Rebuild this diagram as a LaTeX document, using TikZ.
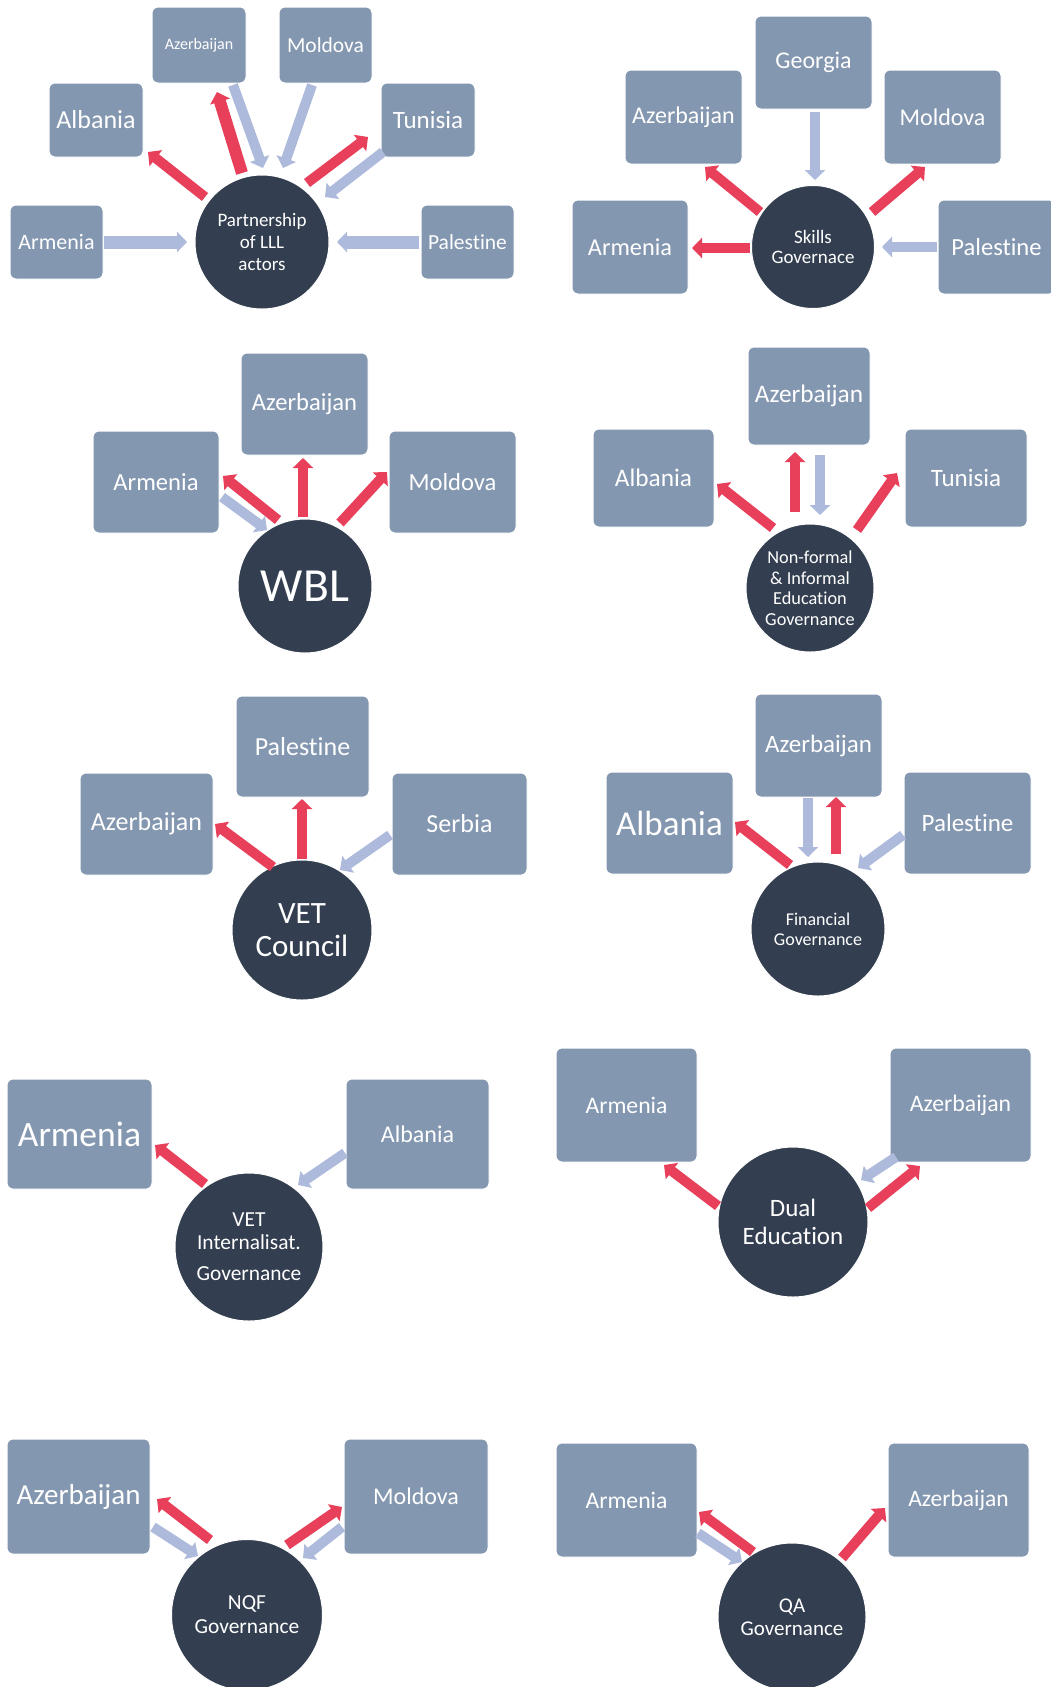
\documentclass[tikz,border=0pt]{standalone}
\usepackage{fontspec}
\setmainfont{Carlito}[Ligatures=NoCommon]
\usetikzlibrary{arrows.meta,calc}
\definecolor{boxc}{HTML}{8497B0}
\definecolor{hubc}{HTML}{333F50}
\definecolor{arrred}{HTML}{E8405A}
\definecolor{arrblue}{HTML}{AEBADC}
\newcommand\fsz[2]{\fontsize{#1}{#2}\selectfont}
\tikzset{
 box/.style={draw=white, line width=1pt, fill=boxc, rounded corners=6pt, text=white, inner sep=0pt, align=center},
 hub/.style={circle, draw=white, line width=1pt, fill=hubc, text=white, inner sep=0pt, align=center},
 redarr/.style={draw=arrred, line width=10pt, -{Triangle[length=10pt,width=20pt]}},
 bluearr/.style={draw=arrblue, line width=10pt, -{Triangle[length=10pt,width=20pt]}},
}
\begin{document}
\begin{tikzpicture}[x=1pt,y=-1pt]
\useasboundingbox[fill=white] (0,0) rectangle (1051,1687);

% ---------- Diagram 1 ----------
\node[box, minimum width=94pt, minimum height=76pt, font=\fsz{16}{19}] (az1) at (199,45) {Azerbaijan};
\node[box, minimum width=93pt, minimum height=76pt, font=\fsz{21.5}{25}] (mo1) at (325.5,45) {Moldova};
\node[box, minimum width=94pt, minimum height=74pt, font=\fsz{26}{30}] (al1) at (96,120) {Albania};
\node[box, minimum width=94pt, minimum height=74pt, font=\fsz{25}{29}] (tu1) at (428,120) {Tunisia};
\node[box, minimum width=93pt, minimum height=74pt, font=\fsz{22}{26}] (ar1) at (56.5,242) {Armenia};
\node[box, minimum width=93pt, minimum height=74pt, font=\fsz{21.5}{25}] (pa1) at (467.5,242) {Palestine};
\node[hub, minimum size=134pt, font=\fsz{19}{21.7}] (c1) at (262,242) {Partnership\\of LLL\\actors};
\draw[redarr] ($(c1)+(-57,-45)$) -- ($(al1)+(52,32)$);
\draw[redarr, line width=12pt] ($(c1)+(-20,-69)$) -- ($(az1)+(18,47)$);
\draw[bluearr] ($(az1)+(34,40)$) -- ($(c1)+(1,-74)$);
\draw[bluearr] ($(mo1)+(-13.5,40)$) -- ($(c1)+(21,-74)$);
\draw[redarr] ($(c1)+(45,-59)$) -- ($(tu1)+(-60,17)$);
\draw[bluearr] ($(tu1)+(-45,32)$) -- ($(c1)+(63,-45)$);
\draw[bluearr, line width=13pt] ($(ar1)+(47.5,0)$) -- ($(c1)+(-75,0)$);
\draw[bluearr, line width=13pt] ($(pa1)+(-48.5,0)$) -- ($(c1)+(75,0)$);

% ---------- Diagram 2 ----------
\node[box, minimum width=117pt, minimum height=93pt, font=\fsz{24}{28}] (ge2) at (813.5,62.5) {Georgia};
\node[box, minimum width=117pt, minimum height=94pt, font=\fsz{24}{28}] (az2) at (683.5,117) {Azerbaijan};
\node[box, minimum width=117pt, minimum height=94pt, font=\fsz{24}{28}] (mo2) at (942.5,117) {Moldova};
\node[box, minimum width=116pt, minimum height=94pt, font=\fsz{24.3}{28}] (ar2) at (630,247) {Armenia};
\node[box, minimum width=117pt, minimum height=94pt, font=\fsz{24.6}{28}] (pa2) at (996.5,247) {Palestine};
\node[hub, minimum size=123pt, font=\fsz{19}{20.5}] (c2) at (813,247) {Skills\\Governace};
\draw[bluearr] ($(ge2)+(1.5,49.5)$) -- ($(c2)+(2,-67)$);
\draw[redarr] ($(c2)+(-53,-35)$) -- ($(az2)+(21.5,50)$);
\draw[redarr] ($(c2)+(59,-35)$) -- ($(mo2)+(-17.5,50)$);
\draw[redarr] ($(c2)+(-63,1)$) -- ($(ar2)+(62,1)$);
\draw[bluearr] ($(pa2)+(-59.5,0)$) -- ($(c2)+(69,0)$);

% ---------- Diagram 3 ----------
\node[box, minimum width=127pt, minimum height=102pt, font=\fsz{24.6}{28}] (az3) at (304.5,404) {Azerbaijan};
\node[box, minimum width=126pt, minimum height=102pt, font=\fsz{24.6}{28}] (ar3) at (156,482) {Armenia};
\node[box, minimum width=127pt, minimum height=102pt, font=\fsz{24.6}{28}] (mo3) at (452.5,482) {Moldova};
\node[hub, minimum size=134pt, font=\fsz{47.5}{52}] (c3) at (305,586) {WBL};
\draw[redarr] ($(c3)+(-27,-66)$) -- ($(ar3)+(67,-6)$);
\draw[bluearr] ($(ar3)+(66,15)$) -- ($(c3)+(-38,-56)$);
\draw[redarr] ($(c3)+(-2,-69)$) -- ($(az3)+(-1.5,54)$);
\draw[redarr] ($(c3)+(35,-63)$) -- ($(mo3)+(-65.5,-10)$);

% ---------- Diagram 4 ----------
\node[box, minimum width=122pt, minimum height=98pt, font=\fsz{25.3}{29}] (az4) at (809,396) {Azerbaijan};
\node[box, minimum width=121pt, minimum height=98pt, font=\fsz{25.3}{29}] (al4) at (653.5,478) {Albania};
\node[box, minimum width=122pt, minimum height=98pt, font=\fsz{25}{29}] (tu4) at (966,478) {Tunisia};
\node[hub, minimum size=128pt, font=\fsz{18.3}{20.5}] (c4) at (810,588) {Non-formal\\\& Informal\\Education\\Governance};
\draw[redarr] ($(c4)+(-37,-60)$) -- ($(al4)+(63.5,6)$);
\draw[redarr] ($(c4)+(-15,-76)$) -- ($(az4)+(-14,56)$);
\draw[bluearr] ($(az4)+(11,59)$) -- ($(c4)+(10,-73)$);
\draw[redarr] ($(c4)+(47,-58)$) -- ($(tu4)+(-69,-5)$);

% ---------- Diagram 5 ----------
\node[box, minimum width=133pt, minimum height=101pt, font=\fsz{26}{30}] (pa5) at (302.5,746.5) {Palestine};
\node[box, minimum width=133pt, minimum height=102pt, font=\fsz{26}{30}] (az5) at (146.5,824) {Azerbaijan};
\node[box, minimum width=135pt, minimum height=102pt, font=\fsz{26}{30}] (se5) at (459.5,824) {Serbia};
\node[hub, minimum size=140pt, font=\fsz{31}{33}] (c5) at (302,930) {VET\\Council};
\draw[redarr] ($(c5)+(-29,-63)$) -- ($(az5)+(68.5,0)$);
\draw[redarr] ($(c5)+(0,-71)$) -- ($(pa5)+(-0.5,52.5)$);
\draw[bluearr] ($(se5)+(-69.5,11)$) -- ($(c5)+(38,-60)$);

% ---------- Diagram 6 ----------
\node[box, minimum width=127pt, minimum height=103pt, font=\fsz{25}{29}] (az6) at (818.5,745.5) {Azerbaijan};
\node[box, minimum width=127pt, minimum height=102pt, font=\fsz{35}{40}] (al6) at (669.5,823) {Albania};
\node[box, minimum width=127pt, minimum height=102pt, font=\fsz{25}{29}] (pa6) at (967.5,823) {Palestine};
\node[hub, minimum size=134pt, font=\fsz{18}{20}] (c6) at (818,929) {Financial\\Governance};
\draw[redarr] ($(c6)+(-28,-64)$) -- ($(al6)+(65.5,-1)$);
\draw[bluearr] ($(az6)+(-10.5,52.5)$) -- ($(c6)+(-10,-72)$);
\draw[redarr] ($(c6)+(18,-75)$) -- ($(az6)+(17.5,51.5)$);
\draw[bluearr] ($(pa6)+(-64.5,12)$) -- ($(c6)+(40,-61)$);

% ---------- Diagram 7 ----------
\node[box, minimum width=145pt, minimum height=110pt, font=\fsz{35.6}{40}] (ar7) at (79.5,1134) {Armenia};
\node[box, minimum width=143pt, minimum height=110pt, font=\fsz{24}{28}] (al7) at (417.5,1134) {Albania};
\node[hub, minimum size=148pt, font=\fsz{21.4}{23}] (c7) at (249,1247) {VET\\Internalisat.\\[8pt]Governance};
\draw[redarr] ($(c7)+(-44,-63)$) -- ($(ar7)+(75.5,11)$);
\draw[bluearr] ($(al7)+(-72.5,19)$) -- ($(c7)+(49,-62)$);

% ---------- Diagram 8 ----------
\node[box, minimum width=141pt, minimum height=114pt, font=\fsz{23.7}{28}] (ar8) at (626.5,1105) {Armenia};
\node[box, minimum width=141pt, minimum height=114pt, font=\fsz{23.7}{28}] (az8) at (960.5,1105) {Azerbaijan};
\node[hub, minimum size=150pt, font=\fsz{25}{28}] (c8) at (793,1222) {Dual\\Education};
\draw[redarr] ($(c8)+(-75,-16)$) -- ($(ar8)+(37.5,60)$);
\draw[bluearr] ($(az8)+(-64.5,52)$) -- ($(c8)+(68,-42)$);
\draw[redarr] ($(c8)+(75,-14)$) -- ($(az8)+(-40.5,61)$);

% ---------- Diagram 9 ----------
\node[box, minimum width=143pt, minimum height=115pt, font=\fsz{29}{33}] (az9) at (78.5,1496.5) {Azerbaijan};
\node[box, minimum width=144pt, minimum height=115pt, font=\fsz{24}{28}] (mo9) at (416,1496.5) {Moldova};
\node[hub, minimum size=151pt, font=\fsz{21.4}{24}] (c9) at (247,1615) {NQF\\Governance};
\draw[redarr] ($(c9)+(-37,-75)$) -- ($(az9)+(78.5,2.5)$);
\draw[bluearr] ($(az9)+(74.5,30.5)$) -- ($(c9)+(-49,-59)$);
\draw[redarr] ($(c9)+(40,-70)$) -- ($(mo9)+(-74,10.5)$);
\draw[bluearr] ($(mo9)+(-74,30.5)$) -- ($(c9)+(56,-57)$);

% ---------- Diagram 10 ----------
\node[box, minimum width=141pt, minimum height=114pt, font=\fsz{23.7}{28}] (ar10) at (626.5,1500) {Armenia};
\node[box, minimum width=141pt, minimum height=114pt, font=\fsz{23.5}{28}] (az10) at (958.5,1500) {Azerbaijan};
\node[hub, minimum size=148pt, font=\fsz{21}{23}] (c10) at (792,1617) {QA\\Governance};
\draw[redarr] ($(c10)+(-39,-65)$) -- ($(ar10)+(72.5,12)$);
\draw[bluearr] ($(ar10)+(71.5,33)$) -- ($(c10)+(-50,-55)$);
\draw[redarr] ($(c10)+(50,-59)$) -- ($(az10)+(-73.5,8)$);
\end{tikzpicture}
\end{document}
